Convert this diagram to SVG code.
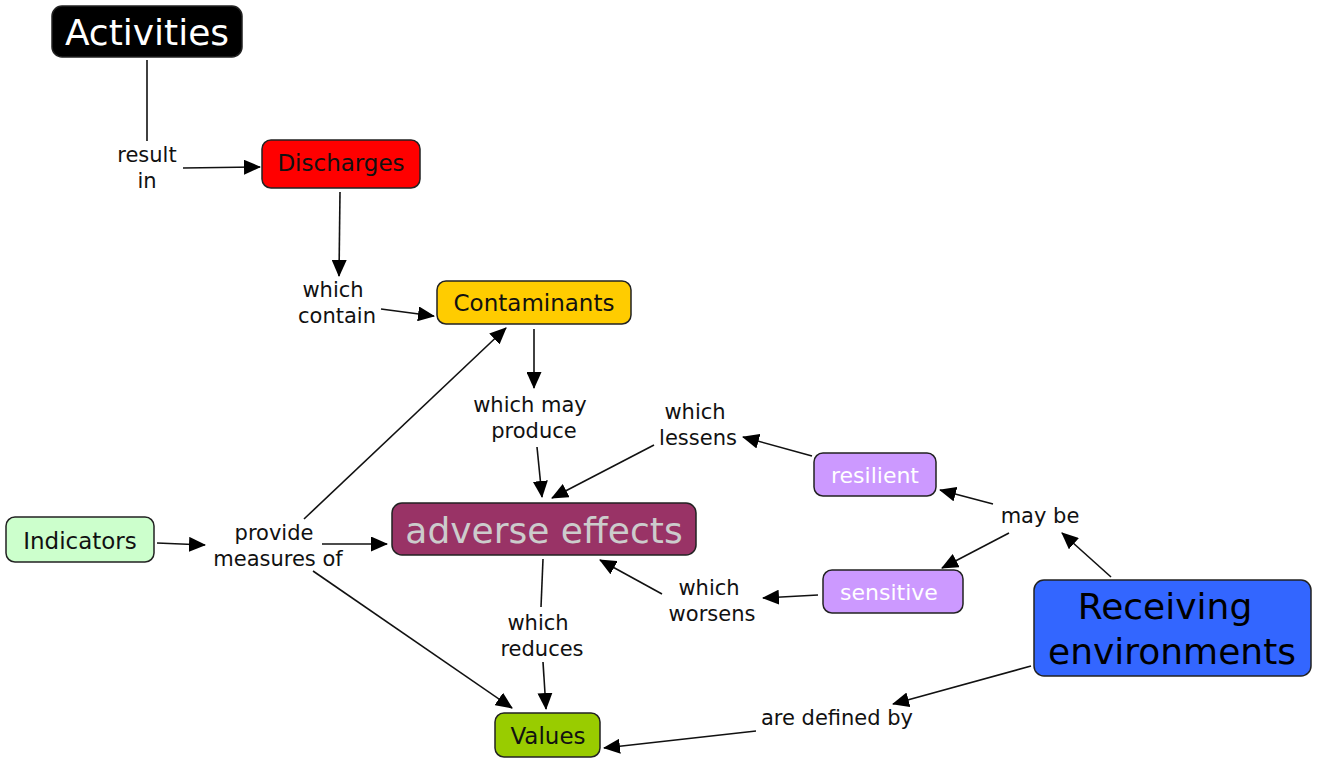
<svg xmlns="http://www.w3.org/2000/svg" width="1319" height="760" viewBox="0 0 1319 760">
<style>
text{font-family:"DejaVu Sans",Verdana,sans-serif;text-anchor:middle;dominant-baseline:central}
.n{stroke:#222;stroke-width:1.5}
.lbl{font-size:21px;fill:#111}
.c{stroke:#111;stroke-width:1.6;fill:none}
</style>
<defs>
<marker id="ah" markerUnits="userSpaceOnUse" markerWidth="17" markerHeight="15" refX="16" refY="7.5" orient="auto">
<path d="M0,0 L17,7.5 L0,15 Z" fill="#000"/>
</marker>
</defs>
<rect width="1319" height="760" fill="#fff"/>
<g id="connectors">
<line class="c" x1="147" y1="60" x2="147" y2="141"/>
<line class="c" x1="183" y1="168" x2="260" y2="167" marker-end="url(#ah)"/>
<line class="c" x1="340" y1="192" x2="339" y2="276" marker-end="url(#ah)"/>
<line class="c" x1="381" y1="309" x2="434" y2="316" marker-end="url(#ah)"/>
<line class="c" x1="534" y1="329" x2="534" y2="388" marker-end="url(#ah)"/>
<line class="c" x1="537" y1="447" x2="542" y2="497" marker-end="url(#ah)"/>
<line class="c" x1="812" y1="456" x2="743" y2="437" marker-end="url(#ah)"/>
<line class="c" x1="654" y1="445" x2="552" y2="498" marker-end="url(#ah)"/>
<line class="c" x1="993" y1="504" x2="940" y2="490" marker-end="url(#ah)"/>
<line class="c" x1="1009" y1="533" x2="942" y2="568" marker-end="url(#ah)"/>
<line class="c" x1="1111" y1="577" x2="1062" y2="533" marker-end="url(#ah)"/>
<line class="c" x1="818" y1="595" x2="763" y2="598" marker-end="url(#ah)"/>
<line class="c" x1="662" y1="594" x2="600" y2="560" marker-end="url(#ah)"/>
<line class="c" x1="157" y1="543" x2="205" y2="545" marker-end="url(#ah)"/>
<line class="c" x1="322" y1="544" x2="387" y2="544" marker-end="url(#ah)"/>
<line class="c" x1="304" y1="519" x2="506" y2="328" marker-end="url(#ah)"/>
<line class="c" x1="313" y1="571" x2="512" y2="708" marker-end="url(#ah)"/>
<line class="c" x1="543" y1="559" x2="541" y2="607"/>
<line class="c" x1="543" y1="662" x2="546" y2="709" marker-end="url(#ah)"/>
<line class="c" x1="1031" y1="666" x2="893" y2="704" marker-end="url(#ah)"/>
<line class="c" x1="756" y1="731" x2="604" y2="748" marker-end="url(#ah)"/>
</g>
<g id="activities"><rect class="n" x="52" y="6" width="190" height="51" rx="10" fill="#000"/><text x="147" y="32" font-size="36" fill="#fff">Activities</text></g>
<g id="discharges"><rect class="n" x="262" y="140" width="158" height="48" rx="9" fill="#ff0000"/><text x="341" y="163" font-size="23" fill="#111">Discharges</text></g>
<g id="contaminants"><rect class="n" x="437" y="281" width="194" height="43" rx="9" fill="#ffcc00"/><text x="534" y="303" font-size="23" fill="#111">Contaminants</text></g>
<g id="adverse"><rect class="n" x="392" y="503" width="304" height="52" rx="10" fill="#993366"/><text x="544" y="530" font-size="36" fill="#cccccc">adverse effects</text></g>
<g id="indicators"><rect class="n" x="6" y="517" width="148" height="45" rx="9" fill="#ccffcc"/><text x="80" y="541" font-size="23" fill="#111">Indicators</text></g>
<g id="values"><rect class="n" x="495" y="713" width="105" height="44" rx="9" fill="#99cc00"/><text x="548" y="736" font-size="23" fill="#111">Values</text></g>
<g id="resilient"><rect class="n" x="814" y="453" width="122" height="43" rx="9" fill="#cc99ff"/><text x="875" y="475" font-size="22" fill="#fff">resilient</text></g>
<g id="sensitive"><rect class="n" x="823" y="570" width="140" height="43" rx="9" fill="#cc99ff"/><text x="889" y="592" font-size="22" fill="#fff">sensitive</text></g>
<g id="receiving"><rect class="n" x="1034" y="580" width="277" height="96" rx="10" fill="#3366ff"/><text x="1165" y="606" font-size="36" fill="#000">Receiving</text><text x="1172" y="651" font-size="36" fill="#000">environments</text></g>
<g id="l-result"><text class="lbl" x="147" y="155">result</text><text class="lbl" x="147" y="181">in</text></g>
<g id="l-contain"><text class="lbl" x="333" y="290">which</text><text class="lbl" x="337" y="316">contain</text></g>
<g id="l-produce"><text class="lbl" x="530" y="405">which may</text><text class="lbl" x="534" y="431">produce</text></g>
<g id="l-lessens"><text class="lbl" x="695" y="412">which</text><text class="lbl" x="698" y="438">lessens</text></g>
<g id="l-provide"><text class="lbl" x="274" y="533">provide</text><text class="lbl" x="278" y="559">measures of</text></g>
<g id="l-maybe"><text class="lbl" x="1040" y="516">may be</text></g>
<g id="l-worsens"><text class="lbl" x="709" y="588">which</text><text class="lbl" x="712" y="614">worsens</text></g>
<g id="l-reduces"><text class="lbl" x="538" y="623">which</text><text class="lbl" x="542" y="649">reduces</text></g>
<g id="l-defined"><text class="lbl" x="837" y="718">are defined by</text></g>
</svg>
